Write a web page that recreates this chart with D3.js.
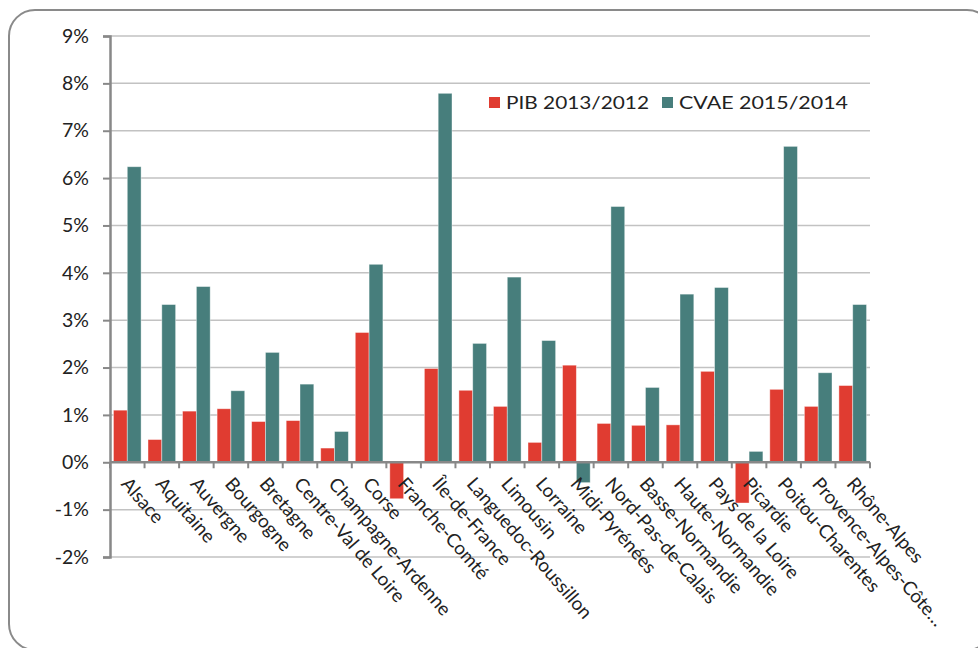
<!DOCTYPE html>
<html><head><meta charset="utf-8">
<script src="https://cdn.jsdelivr.net/npm/d3@7"></script>
<style>body{margin:0;background:#fff;}svg{display:block;font-family:Lato,"Noto Sans",sans-serif;}</style>
</head><body><svg id="c" width="978" height="648"></svg>
<script>
const categories = ["Alsace","Aquitaine","Auvergne","Bourgogne","Bretagne","Centre-Val de Loire","Champagne-Ardenne","Corse","Franche-Comté","Île-de-France","Languedoc-Roussillon","Limousin","Lorraine","Midi-Pyrénées","Nord-Pas-de-Calais","Basse-Normandie","Haute-Normandie","Pays de la Loire","Picardie","Poitou-Charentes","Provence-Alpes-Côte…","Rhône-Alpes"];
const pib = [1.10,0.48,1.08,1.13,0.86,0.88,0.30,2.74,-0.77,1.98,1.52,1.18,0.42,2.05,0.82,0.78,0.79,1.92,-0.86,1.54,1.18,1.62];
const cvae = [6.24,3.33,3.71,1.51,2.32,1.65,0.65,4.18,0,7.79,2.51,3.91,2.57,-0.43,5.40,1.58,3.55,3.69,0.23,6.67,1.89,3.33];
const seriesNames = ["PIB 2013/2012","CVAE 2015/2014"];
const colors = ["#e03c31","#477e7c"];
const yTicks = [-2,-1,0,1,2,3,4,5,6,7,8,9];

const svg = d3.select("#c");
svg.append("rect").attr("x",9).attr("y",10).attr("width",984).attr("height",640).attr("rx",26)
  .attr("fill","none").attr("stroke","#8a8a8a").attr("stroke-width",2);

const L=110,R=870,T=36,B=557;
const x = d3.scaleBand().domain(categories).range([L,R]).paddingInner(0.2).paddingOuter(0.1);
const xb = d3.scaleBand().domain(categories).range([L,R]);
const y = d3.scaleLinear().domain([-2,9]).range([B,T]);
const xs = d3.scaleBand().domain([0,1]).range([0,x.bandwidth()]);

// grid
svg.append("g").selectAll("line").data(yTicks).join("line")
  .attr("x1",L).attr("x2",R).attr("y1",d=>y(d)).attr("y2",d=>y(d))
  .attr("stroke","#c2c2c2").attr("stroke-width",1.5);

// y axis
const ya = svg.append("g").attr("transform",`translate(${L},0)`)
  .call(d3.axisLeft(y).tickValues(yTicks).tickFormat(d=>d+"%").tickSize(7).tickPadding(14));
ya.select(".domain").attr("stroke","#888").attr("stroke-width",2.5);
ya.selectAll(".tick line").attr("stroke","#888").attr("stroke-width",2);
ya.selectAll("text").attr("font-size",19.5).attr("fill","#222").style("font-family","Lato,'Noto Sans',sans-serif");

// bars
const data = categories.map((c,i)=>({c,v:[pib[i],cvae[i]]}));
const g = svg.append("g");
[0,1].forEach(s=>{
  g.selectAll(".b"+s).data(data).join("rect")
    .attr("x",d=>x(d.c)+xs(s)).attr("width",xs.bandwidth())
    .attr("y",d=>y(Math.max(0,d.v[s]))).attr("height",d=>Math.abs(y(d.v[s])-y(0)))
    .attr("fill",colors[s]).attr("stroke","rgba(255,255,255,0.5)").attr("stroke-width",0.8);
});

// x axis
const xa = svg.append("g");
xa.append("line").attr("x1",L).attr("x2",R).attr("y1",y(0)).attr("y2",y(0)).attr("stroke","#888").attr("stroke-width",2.5);
const bounds = categories.map(c=>xb(c)).concat([R]);
xa.selectAll(".t").data(bounds).join("line").attr("x1",d=>d).attr("x2",d=>d)
  .attr("y1",y(0)).attr("y2",y(0)+6).attr("stroke","#888").attr("stroke-width",2);
xa.selectAll("text").data(categories).join("text")
  .attr("transform",d=>`translate(${xb(d)+xb.bandwidth()/2-2},${y(0)+18}) rotate(49)`)
  .attr("font-size",18.8).attr("fill","#222").attr("dy","0.35em").text(d=>d);

// legend
const lg = svg.append("g");
const lx=[489,662], lw=[143,169];
seriesNames.forEach((n,i)=>{
  lg.append("rect").attr("x",lx[i]).attr("y",97).attr("width",11).attr("height",11).attr("fill",colors[i]);
  lg.append("text").attr("x",lx[i]+17).attr("y",103).attr("dy","0.35em").attr("font-size",17.5)
    .attr("textLength",lw[i]).attr("lengthAdjust","spacingAndGlyphs").attr("fill","#222").text(n);
});
</script></body></html>
